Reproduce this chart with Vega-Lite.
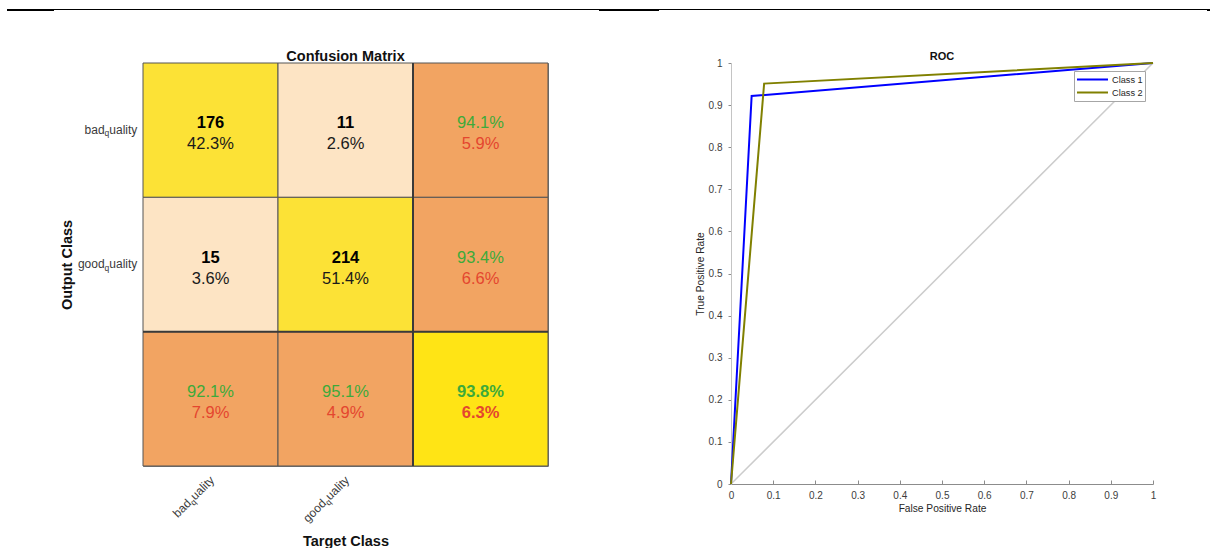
{
  "$schema": "https://vega.github.io/schema/vega-lite/v6.json",
  "background": "white",
  "padding": {"left": 0, "top": 9, "right": 0, "bottom": 0},
  "config": {
    "font": "Liberation Sans",
    "view": {"stroke": null},
    "axis": {"grid": false}
  },
  "datasets": {
    "rules": [
      {"from": 7, "to": 1210, "top": 0, "bottom": 1},
      {"from": 7, "to": 54, "top": 0, "bottom": 2},
      {"from": 599, "to": 659, "top": 0, "bottom": 2},
      {"from": 1207, "to": 1210, "top": 0, "bottom": 2}
    ],
    "cells": [
      {"row": "bad_quality", "col": "bad_quality", "kind": "hit", "count": 176, "share": 0.423},
      {"row": "bad_quality", "col": "good_quality", "kind": "miss", "count": 11, "share": 0.026},
      {"row": "bad_quality", "col": "all", "kind": "margin", "correct": 0.941, "wrong": 0.059},
      {"row": "good_quality", "col": "bad_quality", "kind": "miss", "count": 15, "share": 0.036},
      {"row": "good_quality", "col": "good_quality", "kind": "hit", "count": 214, "share": 0.514},
      {"row": "good_quality", "col": "all", "kind": "margin", "correct": 0.934, "wrong": 0.066},
      {"row": "all", "col": "bad_quality", "kind": "margin", "correct": 0.921, "wrong": 0.079},
      {"row": "all", "col": "good_quality", "kind": "margin", "correct": 0.951, "wrong": 0.049},
      {"row": "all", "col": "all", "kind": "overall", "correct": 0.938, "wrong": 0.063}
    ],
    "classes": [
      {"cls": "bad_quality", "stem": "bad", "sub": "q", "rest": "uality"},
      {"cls": "good_quality", "stem": "good", "sub": "q", "rest": "uality"}
    ],
    "edges": [{"edge": "all"}],
    "roc": [
      {"series": "Class 1", "step": 0, "fpr": 0, "tpr": 0},
      {"series": "Class 1", "step": 1, "fpr": 0.0489, "tpr": 0.9215},
      {"series": "Class 1", "step": 2, "fpr": 1, "tpr": 1},
      {"series": "Class 2", "step": 0, "fpr": 0, "tpr": 0},
      {"series": "Class 2", "step": 1, "fpr": 0.0785, "tpr": 0.9511},
      {"series": "Class 2", "step": 2, "fpr": 1, "tpr": 1}
    ],
    "chance": [
      {"fpr": 0, "tpr": 0},
      {"fpr": 1, "tpr": 1}
    ],
    "blank": []
  },
  "spacing": 37,
  "resolve": {"scale": {"color": "independent", "fill": "independent"}, "legend": {"color": "independent", "fill": "independent"}},
  "vconcat": [
    {
      "width": 1213,
      "height": 2,
      "data": {"name": "rules"},
      "mark": {"type": "rect", "color": "#000000"},
      "encoding": {
        "x": {"field": "from", "type": "quantitative", "scale": {"domain": [0, 1213], "nice": false, "zero": false}, "axis": null},
        "x2": {"field": "to"},
        "y": {"field": "top", "type": "quantitative", "scale": {"domain": [0, 2], "reverse": true, "nice": false}, "axis": null},
        "y2": {"field": "bottom"}
      }
    },
    {
      "spacing": 0,
      "resolve": {"scale": {"color": "independent", "fill": "independent"}, "legend": {"color": "independent", "fill": "independent"}},
      "hconcat": [
        {
          "width": 58,
          "height": 1,
          "data": {"name": "blank"},
          "mark": {"type": "point", "opacity": 0},
          "encoding": {}
        },
        {
          "spacing": 145,
          "resolve": {"scale": {"color": "independent", "fill": "independent"}, "legend": {"color": "independent", "fill": "independent"}},
          "hconcat": [
            {
              "width": 405,
              "height": 403,
              "view": {"stroke": "#7a7a7a", "strokeWidth": 1},
              "title": {"text": "Confusion Matrix", "fontSize": 14.5, "fontWeight": "bold", "color": "#111111", "offset": -2},
              "layer": [
                {
                  "data": {"name": "cells"},
                  "mark": {"type": "rect", "stroke": "#555555", "strokeWidth": 1},
                  "encoding": {
                    "x": {
                      "field": "col", "type": "nominal", "sort": null,
                      "scale": {"domain": ["bad_quality", "good_quality", "all"], "paddingInner": 0, "paddingOuter": 0},
                      "axis": {"title": "Target Class", "labels": false, "ticks": false, "domain": false, "titleFontSize": 14.5, "titleFontWeight": "bold", "titleColor": "#111111", "titlePadding": 68}
                    },
                    "y": {
                      "field": "row", "type": "nominal", "sort": null,
                      "scale": {"domain": ["bad_quality", "good_quality", "all"], "paddingInner": 0, "paddingOuter": 0},
                      "axis": {"title": "Output Class", "labels": false, "ticks": false, "domain": false, "titleFontSize": 14.5, "titleFontWeight": "bold", "titleColor": "#111111", "titlePadding": 69}
                    },
                    "fill": {
                      "field": "kind", "type": "nominal",
                      "scale": {"domain": ["hit", "miss", "margin", "overall"], "range": ["#FCE236", "#FDE4C4", "#F2A462", "#FFE415"]},
                      "legend": null
                    }
                  }
                },
                {
                  "data": {"name": "cells"},
                  "transform": [{"filter": "isValid(datum.count)"}],
                  "mark": {"type": "text", "fontSize": 16.5, "fontWeight": "bold", "color": "#000000", "baseline": "middle", "dy": -7},
                  "encoding": {
                    "x": {"field": "col", "type": "nominal", "sort": null, "scale": {"domain": ["bad_quality", "good_quality", "all"]}},
                    "y": {"field": "row", "type": "nominal", "sort": null, "scale": {"domain": ["bad_quality", "good_quality", "all"]}},
                    "text": {"field": "count", "type": "quantitative"}
                  }
                },
                {
                  "data": {"name": "cells"},
                  "transform": [{"filter": "isValid(datum.share)"}],
                  "mark": {"type": "text", "fontSize": 16.5, "color": "#1a1a1a", "baseline": "middle", "dy": 14},
                  "encoding": {
                    "x": {"field": "col", "type": "nominal", "sort": null, "scale": {"domain": ["bad_quality", "good_quality", "all"]}},
                    "y": {"field": "row", "type": "nominal", "sort": null, "scale": {"domain": ["bad_quality", "good_quality", "all"]}},
                    "text": {"field": "share", "type": "quantitative", "format": ".1%"}
                  }
                },
                {
                  "data": {"name": "cells"},
                  "transform": [{"filter": "datum.kind === 'margin'"}],
                  "mark": {"type": "text", "fontSize": 16.5, "color": "#3DAA3A", "baseline": "middle", "dy": -7},
                  "encoding": {
                    "x": {"field": "col", "type": "nominal", "sort": null, "scale": {"domain": ["bad_quality", "good_quality", "all"]}},
                    "y": {"field": "row", "type": "nominal", "sort": null, "scale": {"domain": ["bad_quality", "good_quality", "all"]}},
                    "text": {"field": "correct", "type": "quantitative", "format": ".1%"}
                  }
                },
                {
                  "data": {"name": "cells"},
                  "transform": [{"filter": "datum.kind === 'margin'"}],
                  "mark": {"type": "text", "fontSize": 16.5, "color": "#E4462F", "baseline": "middle", "dy": 14},
                  "encoding": {
                    "x": {"field": "col", "type": "nominal", "sort": null, "scale": {"domain": ["bad_quality", "good_quality", "all"]}},
                    "y": {"field": "row", "type": "nominal", "sort": null, "scale": {"domain": ["bad_quality", "good_quality", "all"]}},
                    "text": {"field": "wrong", "type": "quantitative", "format": ".1%"}
                  }
                },
                {
                  "data": {"name": "cells"},
                  "transform": [{"filter": "datum.kind === 'overall'"}],
                  "mark": {"type": "text", "fontSize": 16.5, "fontWeight": "bold", "color": "#3DAA3A", "baseline": "middle", "dy": -7},
                  "encoding": {
                    "x": {"field": "col", "type": "nominal", "sort": null, "scale": {"domain": ["bad_quality", "good_quality", "all"]}},
                    "y": {"field": "row", "type": "nominal", "sort": null, "scale": {"domain": ["bad_quality", "good_quality", "all"]}},
                    "text": {"field": "correct", "type": "quantitative", "format": ".1%"}
                  }
                },
                {
                  "data": {"name": "cells"},
                  "transform": [{"filter": "datum.kind === 'overall'"}],
                  "mark": {"type": "text", "fontSize": 16.5, "fontWeight": "bold", "color": "#E4462F", "baseline": "middle", "dy": 14},
                  "encoding": {
                    "x": {"field": "col", "type": "nominal", "sort": null, "scale": {"domain": ["bad_quality", "good_quality", "all"]}},
                    "y": {"field": "row", "type": "nominal", "sort": null, "scale": {"domain": ["bad_quality", "good_quality", "all"]}},
                    "text": {"field": "wrong", "type": "quantitative", "format": ".1%"}
                  }
                },
                {
                  "data": {"name": "edges"},
                  "mark": {"type": "rule", "color": "#3a3a3a", "strokeWidth": 2},
                  "encoding": {
                    "x": {"field": "edge", "type": "nominal", "sort": null, "bandPosition": 0, "scale": {"domain": ["bad_quality", "good_quality", "all"]}}
                  }
                },
                {
                  "data": {"name": "edges"},
                  "mark": {"type": "rule", "color": "#3a3a3a", "strokeWidth": 2},
                  "encoding": {
                    "y": {"field": "edge", "type": "nominal", "sort": null, "bandPosition": 0, "scale": {"domain": ["bad_quality", "good_quality", "all"]}}
                  }
                },
                {
                  "data": {"name": "classes"},
                  "mark": {"type": "text", "fontSize": 12, "color": "#3a3a3a", "align": "right", "baseline": "alphabetic", "dx": -5.7, "dy": 3.5},
                  "encoding": {
                    "x": {"datum": "bad_quality", "type": "nominal", "bandPosition": 0, "scale": {"domain": ["bad_quality", "good_quality", "all"]}},
                    "y": {"field": "cls", "type": "nominal", "sort": null, "scale": {"domain": ["bad_quality", "good_quality", "all"]}},
                    "text": {"field": "rest"}
                  }
                },
                {
                  "data": {"name": "classes"},
                  "mark": {"type": "text", "fontSize": 8.5, "color": "#3a3a3a", "align": "right", "baseline": "alphabetic", "dx": -33.7, "dy": 6},
                  "encoding": {
                    "x": {"datum": "bad_quality", "type": "nominal", "bandPosition": 0, "scale": {"domain": ["bad_quality", "good_quality", "all"]}},
                    "y": {"field": "cls", "type": "nominal", "sort": null, "scale": {"domain": ["bad_quality", "good_quality", "all"]}},
                    "text": {"field": "sub"}
                  }
                },
                {
                  "data": {"name": "classes"},
                  "mark": {"type": "text", "fontSize": 12, "color": "#3a3a3a", "align": "right", "baseline": "alphabetic", "dx": -38.4, "dy": 3.5},
                  "encoding": {
                    "x": {"datum": "bad_quality", "type": "nominal", "bandPosition": 0, "scale": {"domain": ["bad_quality", "good_quality", "all"]}},
                    "y": {"field": "cls", "type": "nominal", "sort": null, "scale": {"domain": ["bad_quality", "good_quality", "all"]}},
                    "text": {"field": "stem"}
                  }
                },
                {
                  "data": {"name": "classes"},
                  "mark": {"type": "text", "fontSize": 12, "color": "#3a3a3a", "align": "right", "baseline": "alphabetic", "angle": -45, "dx": -7.4, "dy": 13.8},
                  "encoding": {
                    "x": {"field": "cls", "type": "nominal", "sort": null, "scale": {"domain": ["bad_quality", "good_quality", "all"]}},
                    "y": {"datum": "all", "type": "nominal", "bandPosition": 1, "scale": {"domain": ["bad_quality", "good_quality", "all"]}},
                    "text": {"field": "rest"}
                  }
                },
                {
                  "data": {"name": "classes"},
                  "mark": {"type": "text", "fontSize": 8.5, "color": "#3a3a3a", "align": "right", "baseline": "alphabetic", "angle": -45, "dx": -35.4, "dy": 16.3},
                  "encoding": {
                    "x": {"field": "cls", "type": "nominal", "sort": null, "scale": {"domain": ["bad_quality", "good_quality", "all"]}},
                    "y": {"datum": "all", "type": "nominal", "bandPosition": 1, "scale": {"domain": ["bad_quality", "good_quality", "all"]}},
                    "text": {"field": "sub"}
                  }
                },
                {
                  "data": {"name": "classes"},
                  "mark": {"type": "text", "fontSize": 12, "color": "#3a3a3a", "align": "right", "baseline": "alphabetic", "angle": -45, "dx": -40.1, "dy": 13.8},
                  "encoding": {
                    "x": {"field": "cls", "type": "nominal", "sort": null, "scale": {"domain": ["bad_quality", "good_quality", "all"]}},
                    "y": {"datum": "all", "type": "nominal", "bandPosition": 1, "scale": {"domain": ["bad_quality", "good_quality", "all"]}},
                    "text": {"field": "stem"}
                  }
                }
              ]
            },
            {
              "width": 422,
              "height": 421,
              "title": {"text": "ROC", "fontSize": 11, "fontWeight": "bold", "color": "#111111", "offset": -4},
              "layer": [
                {
                  "data": {"name": "chance"},
                  "mark": {"type": "line", "color": "#cccccc", "strokeWidth": 1.5},
                  "encoding": {
                    "x": {
                      "field": "fpr", "type": "quantitative",
                      "scale": {"domain": [0, 1], "nice": false, "zero": false},
                      "axis": {
                        "title": "False Positive Rate", "values": [0, 0.1, 0.2, 0.3, 0.4, 0.5, 0.6, 0.7, 0.8, 0.9, 1], "format": "~g",
                        "labelFontSize": 10, "labelColor": "#3d3d3d", "labelFlush": false, "labelOverlap": false, "labelPadding": 10,
                        "tickSize": -4, "tickColor": "#8c8c8c", "domainColor": "#8c8c8c",
                        "titleFontSize": 10.2, "titleFontWeight": "normal", "titleColor": "#262626", "titlePadding": 3
                      }
                    },
                    "y": {
                      "field": "tpr", "type": "quantitative",
                      "scale": {"domain": [0, 1], "nice": false, "zero": false},
                      "axis": {
                        "title": "True Positive Rate", "values": [0, 0.1, 0.2, 0.3, 0.4, 0.5, 0.6, 0.7, 0.8, 0.9, 1], "format": "~g",
                        "labelFontSize": 10, "labelColor": "#3d3d3d", "labelOverlap": false, "labelPadding": 6,
                        "tickSize": 3, "tickColor": "#8c8c8c", "domainColor": "#c4c4c4",
                        "titleFontSize": 10.2, "titleFontWeight": "normal", "titleColor": "#262626", "titlePadding": 3
                      }
                    }
                  }
                },
                {
                  "data": {"name": "roc"},
                  "mark": {"type": "line", "strokeWidth": 2},
                  "encoding": {
                    "x": {"field": "fpr", "type": "quantitative"},
                    "y": {"field": "tpr", "type": "quantitative"},
                    "order": {"field": "step"},
                    "color": {
                      "field": "series", "type": "nominal",
                      "scale": {"domain": ["Class 1", "Class 2"], "range": ["#0000ff", "#808000"]},
                      "legend": {
                        "title": null, "orient": "top-right", "offset": 8,
                        "symbolType": "stroke", "symbolSize": 961, "symbolStrokeWidth": 2, "clipHeight": 13,
                        "labelFontSize": 9.2, "labelColor": "#262626", "labelOffset": 3, "rowPadding": 0,
                        "fillColor": "#ffffff", "strokeColor": "#a6a6a6", "padding": 2, "cornerRadius": 0
                      }
                    }
                  }
                }
              ]
            }
          ]
        }
      ]
    }
  ]
}
